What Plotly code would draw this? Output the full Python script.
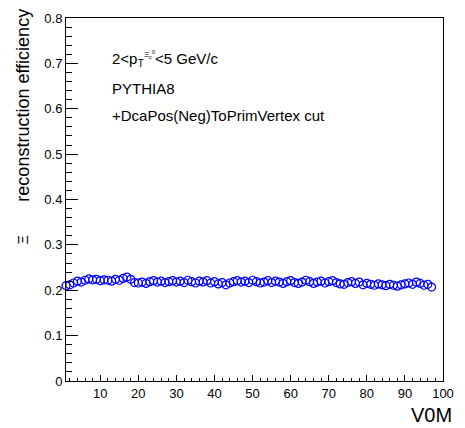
import plotly.graph_objects as go

v0m = list(range(1, 98))
efficiency = [
    0.210, 0.212, 0.216, 0.220, 0.218, 0.222, 0.225, 0.223, 0.224, 0.221,
    0.223, 0.222, 0.220, 0.224, 0.222, 0.226, 0.229, 0.224, 0.217, 0.216,
    0.218, 0.215, 0.219, 0.221, 0.218, 0.220, 0.217, 0.219, 0.221, 0.218,
    0.220, 0.217, 0.222, 0.219, 0.216, 0.220, 0.218, 0.221, 0.216, 0.219,
    0.214, 0.217, 0.212, 0.216, 0.219, 0.221, 0.218, 0.220, 0.217, 0.222,
    0.219, 0.216, 0.218, 0.221, 0.217, 0.220, 0.218, 0.215, 0.219, 0.221,
    0.217, 0.215, 0.218, 0.222, 0.219, 0.215, 0.218, 0.220, 0.216, 0.219,
    0.221, 0.217, 0.214, 0.213, 0.217, 0.219, 0.215, 0.218, 0.212, 0.215,
    0.213, 0.211, 0.214, 0.212, 0.210, 0.213, 0.211, 0.209, 0.212, 0.214,
    0.216, 0.213, 0.218, 0.215, 0.211, 0.213, 0.207,
]
x_ticks = [10, 20, 30, 40, 50, 60, 70, 80, 90, 100]
y_ticks = [0, 0.1, 0.2, 0.3, 0.4, 0.5, 0.6, 0.7, 0.8]
y_ticktext = ["0", "0.1", "0.2", "0.3", "0.4", "0.5", "0.6", "0.7", "0.8"]

FONT = "Liberation Sans, Arial, sans-serif"

fig = go.Figure()
fig.add_trace(go.Scatter(
    x=v0m, y=efficiency, mode="markers", cliponaxis=False,
    marker=dict(symbol="circle-open", size=8, color="#0000ff",
                line=dict(color="#0000ff", width=1.2)),
    showlegend=False,
))

fig.update_layout(
    width=465, height=428,
    margin=dict(l=66, r=11, t=12, b=47),
    paper_bgcolor="white", plot_bgcolor="white",
    font=dict(family=FONT, color="black"),
    xaxis=dict(
        range=[1, 100], tickvals=x_ticks, ticks="inside", ticklen=6,
        tickcolor="black", showline=True, linecolor="black", linewidth=1,
        mirror=True, showgrid=False, zeroline=False,
        tickfont=dict(size=13, family=FONT),
        minor=dict(dtick=2, tick0=0, ticks="inside", ticklen=3, tickcolor="black"),
    ),
    yaxis=dict(
        range=[0, 0.8], tickvals=y_ticks, ticktext=y_ticktext, ticks="inside",
        ticklen=12, tickcolor="black", showline=True, linecolor="black",
        linewidth=1, mirror=True, showgrid=False, zeroline=False,
        tickfont=dict(size=13, family=FONT),
        minor=dict(dtick=0.02, tick0=0, ticks="inside", ticklen=6, tickcolor="black"),
    ),
    annotations=[
        dict(text="reconstruction efficiency", textangle=-90,
             xref="paper", yref="paper", x=-0.114, y=1.03,
             xanchor="center", yanchor="top", showarrow=False,
             font=dict(size=18, family=FONT)),
        dict(text="Ξ", textangle=-90,
             xref="paper", yref="paper", x=-0.114, y=0.3875,
             xanchor="center", yanchor="middle", showarrow=False,
             font=dict(size=14, family=FONT)),
        dict(text="V0M", xref="paper", yref="paper", x=1.03, y=-0.057,
             xanchor="right", yanchor="top", showarrow=False,
             font=dict(size=20, family=FONT)),
        dict(text="2<p<sub>T</sub><sup><span style='font-size:8px'>Ξ<sub>c</sub><sup>0</sup></span></sup><5 GeV/c",
             xref="paper", yref="paper", x=0.118, y=0.886,
             xanchor="left", yanchor="middle", showarrow=False,
             font=dict(size=15, family=FONT)),
        dict(text="PYTHIA8", xref="paper", yref="paper", x=0.118, y=0.806,
             xanchor="left", yanchor="middle", showarrow=False,
             font=dict(size=15, family=FONT)),
        dict(text="+DcaPos(Neg)ToPrimVertex cut", xref="paper", yref="paper",
             x=0.118, y=0.731, xanchor="left", yanchor="middle", showarrow=False,
             font=dict(size=15, family=FONT)),
    ],
)

fig.write_html("out.html")
